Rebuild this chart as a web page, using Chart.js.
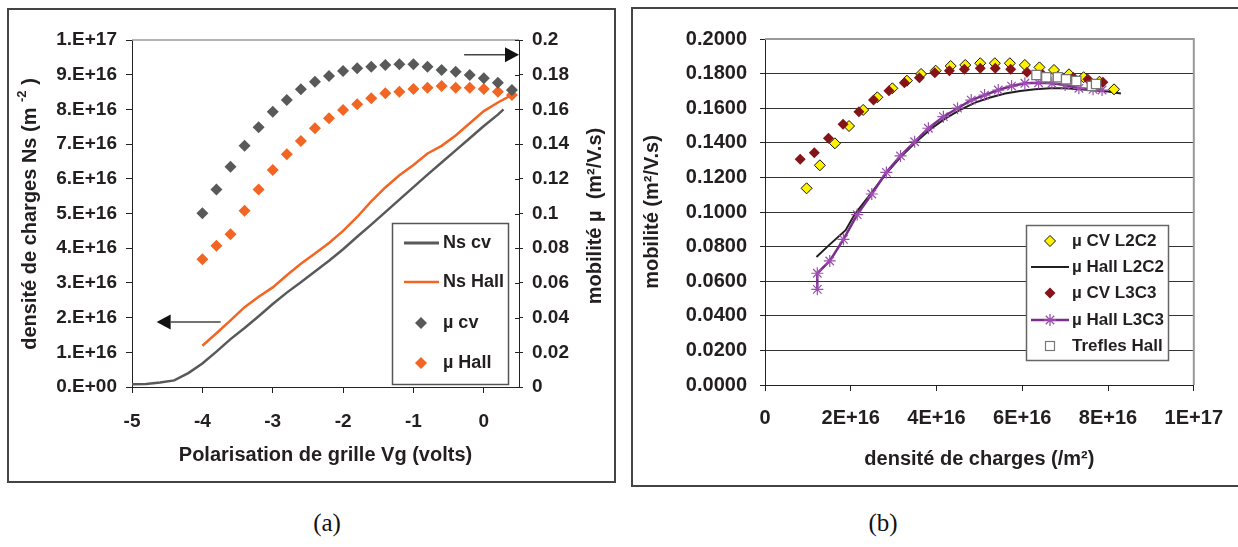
<!DOCTYPE html>
<html><head><meta charset="utf-8">
<script src="https://cdn.jsdelivr.net/npm/chart.js@4.4.0/dist/chart.umd.min.js"></script>
<style>
html,body{margin:0;padding:0;background:#fff;width:1238px;height:547px;overflow:hidden;position:relative;}
.frame{position:absolute;border:2px solid #444;box-sizing:border-box;}
.wrap{position:absolute;}
.cap{position:absolute;font-family:"Liberation Serif","Times New Roman",serif;font-size:25px;color:#111;transform:translate(-50%,-50%);}
</style></head><body>
<div class="frame" style="left:7px;top:8px;width:609px;height:475px"></div>
<div class="frame" style="left:631px;top:7px;width:620px;height:480px"></div>
<div class="wrap" style="left:0;top:0;"><canvas id="ca" width="620" height="490"></canvas></div>
<div class="wrap" style="left:620px;top:0;"><canvas id="cb" width="618" height="490"></canvas></div>
<div class="cap" style="left:327px;top:523px">(a)</div>
<div class="cap" style="left:883px;top:523px">(b)</div>
<script>
// ---------- Chart (a) data ----------
const vgMu = [-4.0,-3.8,-3.6,-3.4,-3.2,-3.0,-2.8,-2.6,-2.4,-2.2,-2.0,-1.8,-1.6,-1.4,-1.2,-1.0,-0.8,-0.6,-0.4,-0.2,0.0,0.2,0.4];
const muCv = [0.1001,0.1139,0.1270,0.1390,0.1497,0.1587,0.1654,0.1716,0.1760,0.1793,0.1821,0.1837,0.1846,0.1856,0.1860,0.1860,0.1846,0.1827,0.1817,0.1798,0.1779,0.1754,0.1712];
const muHall = [0.0736,0.0814,0.0880,0.1016,0.1139,0.1251,0.1341,0.1418,0.1491,0.1549,0.1597,0.1629,0.1664,0.1693,0.1702,0.1718,0.1725,0.1735,0.1725,0.1725,0.1718,0.1702,0.1683];
const vgNsCv = [-5.0,-4.8,-4.6,-4.4,-4.2,-4.0,-3.8,-3.6,-3.4,-3.2,-3.0,-2.8,-2.6,-2.4,-2.2,-2.0,-1.8,-1.6,-1.4,-1.2,-1.0,-0.8,-0.6,-0.4,-0.2,0.0,0.2,0.28];
const nsCv = [0.08e16,0.09e16,0.13e16,0.19e16,0.40e16,0.68e16,1.02e16,1.38e16,1.70e16,2.04e16,2.39e16,2.72e16,3.02e16,3.33e16,3.64e16,3.97e16,4.33e16,4.68e16,5.04e16,5.40e16,5.76e16,6.12e16,6.47e16,6.82e16,7.17e16,7.52e16,7.85e16,8.00e16];
const vgNsHall = [-4.0,-3.8,-3.6,-3.4,-3.2,-3.0,-2.8,-2.6,-2.4,-2.2,-2.0,-1.8,-1.6,-1.4,-1.2,-1.0,-0.8,-0.6,-0.4,-0.2,0.0,0.2,0.4];
const nsHall = [1.19e16,1.55e16,1.92e16,2.30e16,2.60e16,2.87e16,3.22e16,3.55e16,3.85e16,4.15e16,4.50e16,4.90e16,5.35e16,5.75e16,6.10e16,6.40e16,6.73e16,6.95e16,7.25e16,7.60e16,7.95e16,8.20e16,8.42e16];
const nsTickLabels = ['0.E+00','1.E+16','2.E+16','3.E+16','4.E+16','5.E+16','6.E+16','7.E+16','8.E+16','9.E+16','1.E+17'];
const muTickLabelsA = ['0','0.02','0.04','0.06','0.08','0.1','0.12','0.14','0.16','0.18','0.2'];
const vgTickLabels = ['-5','-4','-3','-2','-1','0'];
// arrows (data coords): [xFrom, xTo, y]
const arrowLeft = [-3.74, -4.65, 1.87e16];
const arrowRight = [-0.28, 0.5, 0.1915];

// ---------- Chart (b) data ----------
const nCvL2C2 = [0.97e16,1.28e16,1.63e16,1.96e16,2.29e16,2.62e16,2.97e16,3.31e16,3.64e16,3.98e16,4.33e16,4.67e16,5.02e16,5.36e16,5.71e16,6.06e16,6.40e16,6.74e16,7.09e16,7.43e16,7.80e16,8.14e16];
const muCvL2C2 = [0.1137,0.1270,0.1397,0.1497,0.1590,0.1663,0.1715,0.1759,0.1798,0.1817,0.1844,0.1850,0.1860,0.1860,0.1860,0.1850,0.1836,0.1821,0.1796,0.1779,0.1753,0.1709];
const nHallL2C2 = [1.20e16,1.50e16,1.88e16,2.10e16,2.45e16,2.80e16,3.15e16,3.50e16,3.85e16,4.20e16,4.55e16,4.90e16,5.25e16,5.60e16,5.95e16,6.30e16,6.65e16,7.00e16,7.35e16,7.70e16,8.00e16,8.30e16];
const muHallL2C2 = [0.0740,0.0810,0.0895,0.0990,0.1100,0.1215,0.1315,0.1400,0.1477,0.1540,0.1590,0.1632,0.1662,0.1685,0.1700,0.1710,0.1715,0.1715,0.1710,0.1703,0.1697,0.1685];
const nCvL3C3 = [0.82e16,1.15e16,1.48e16,1.82e16,2.19e16,2.53e16,2.89e16,3.25e16,3.60e16,3.96e16,4.30e16,4.65e16,5.02e16,5.37e16,5.73e16,6.11e16,6.47e16,6.83e16,7.19e16,7.53e16,7.88e16];
const muCvL3C3 = [0.1305,0.1343,0.1426,0.1507,0.1580,0.1647,0.1701,0.1747,0.1776,0.1805,0.1817,0.1825,0.1831,0.1831,0.1825,0.1808,0.1795,0.1785,0.1778,0.1767,0.1750];
const nHallL3C3 = [1.22e16,1.22e16,1.51e16,1.83e16,2.15e16,2.49e16,2.83e16,3.16e16,3.49e16,3.81e16,4.16e16,4.49e16,4.81e16,5.12e16,5.44e16,5.75e16,6.06e16,6.38e16,6.69e16,7.00e16,7.32e16,7.65e16,7.86e16];
const muHallL3C3 = [0.0553,0.0646,0.0717,0.0842,0.0985,0.1104,0.1229,0.1324,0.1406,0.1484,0.1551,0.1600,0.1647,0.1676,0.1705,0.1728,0.1744,0.1747,0.1744,0.1734,0.1715,0.1709,0.1705];
const nTrefles = [6.33e16,6.56e16,6.83e16,7.02e16,7.26e16,7.62e16,7.72e16];
const muTrefles = [0.1792,0.1779,0.1779,0.1767,0.1757,0.1728,0.1740];
const nTickLabels = ['0','2E+16','4E+16','6E+16','8E+16','1E+17'];
const muTickLabelsB = ['0.0000','0.0200','0.0400','0.0600','0.0800','0.1000','0.1200','0.1400','0.1600','0.1800','0.2000'];

// ---------- helpers ----------
const FAM = "'Liberation Sans', Arial, Helvetica, sans-serif";
const TXT = '#231f20';
Chart.defaults.font.family = FAM;
Chart.defaults.color = TXT;
const pts = (xs, ys) => xs.map((x, i) => ({x, y: ys[i]}));
function diamond(ctx, x, y, r, fill, stroke, lw) {
  ctx.beginPath(); ctx.moveTo(x, y - r); ctx.lineTo(x + r, y); ctx.lineTo(x, y + r); ctx.lineTo(x - r, y); ctx.closePath();
  ctx.fillStyle = fill; ctx.fill();
  if (stroke) { ctx.lineWidth = lw; ctx.strokeStyle = stroke; ctx.stroke(); }
}
function vTitle(ctx, cx, cy, parts) {
  ctx.save(); ctx.translate(cx, cy); ctx.rotate(-Math.PI / 2);
  let total = 0;
  parts.forEach(p => { ctx.font = p.font; p.w = ctx.measureText(p.text).width; total += p.w; });
  let x = -total / 2; ctx.textBaseline = 'middle'; ctx.textAlign = 'left'; ctx.fillStyle = TXT;
  parts.forEach(p => { ctx.font = p.font; ctx.fillText(p.text, x, p.dy || 0); x += p.w; });
  ctx.restore();
}
function arrow(ctx, x1, x2, y) {
  const dir = Math.sign(x2 - x1), hl = 14, hw = 7.5;
  ctx.save(); ctx.strokeStyle = '#444'; ctx.lineWidth = 1.5;
  ctx.beginPath(); ctx.moveTo(x1, y); ctx.lineTo(x2 - dir * hl, y); ctx.stroke();
  ctx.fillStyle = '#111'; ctx.beginPath(); ctx.moveTo(x2, y); ctx.lineTo(x2 - dir * hl, y - hw); ctx.lineTo(x2 - dir * hl, y + hw); ctx.closePath(); ctx.fill();
  ctx.restore();
}
const tickFont = {size: 19, weight: 'bold', family: FAM};
const tickFontB = {size: 20, weight: 'bold', family: FAM};
const titleFont = {size: 20, weight: 'bold', family: FAM};
const GRAY = '#58595b', ORANGE = '#f26522';

// ---------- Chart (a) ----------
const pluginA = {
  id: 'decorA',
  beforeDatasetsDraw(chart) {
    const {ctx, chartArea: a} = chart;
    ctx.save(); ctx.strokeStyle = '#9a9a9a'; ctx.lineWidth = 1.5;
    ctx.beginPath(); ctx.moveTo(a.left, a.top); ctx.lineTo(a.right, a.top); ctx.stroke();
    const y1 = chart.scales.y1; ctx.strokeStyle = '#222'; ctx.lineWidth = 1;
    y1.ticks.forEach(t => { const py = Math.round(y1.getPixelForValue(t.value)) + 0.5; ctx.beginPath(); ctx.moveTo(a.right - 4, py); ctx.lineTo(a.right, py); ctx.stroke(); });
    ctx.restore();
  },
  afterDraw(chart) {
    const {ctx} = chart; const x = chart.scales.x, y = chart.scales.y, y1 = chart.scales.y1;
    arrow(ctx, x.getPixelForValue(arrowLeft[0]), x.getPixelForValue(arrowLeft[1]), y.getPixelForValue(arrowLeft[2]));
    arrow(ctx, x.getPixelForValue(arrowRight[0]), x.getPixelForValue(arrowRight[1]), y1.getPixelForValue(arrowRight[2]));
    vTitle(ctx, 30, 214, [
      {text: 'densité de charges Ns (m ', font: 'bold 20px ' + FAM},
      {text: '-2', font: 'bold 13px ' + FAM, dy: -8},
      {text: ' )', font: 'bold 20px ' + FAM}]);
    vTitle(ctx, 595, 216, [{text: 'mobilité µ  (m²/V.s)', font: 'bold 20px ' + FAM}]);
    ctx.save();
    ctx.fillStyle = '#fff'; ctx.fillRect(392, 223, 116, 161);
    ctx.strokeStyle = '#555'; ctx.lineWidth = 1.5; ctx.strokeRect(392.5, 223.5, 116, 161);
    const items = [
      {t: 'Ns cv', y: 243, kind: 'line', c: GRAY, w: 3},
      {t: 'Ns Hall', y: 282, kind: 'line', c: ORANGE, w: 2.5},
      {t: 'µ cv', y: 323, kind: 'dia', c: GRAY},
      {t: 'µ Hall', y: 363, kind: 'dia', c: ORANGE}];
    ctx.font = 'bold 18px ' + FAM; ctx.textBaseline = 'middle'; ctx.textAlign = 'left';
    items.forEach(it => {
      if (it.kind === 'line') { ctx.strokeStyle = it.c; ctx.lineWidth = it.w; ctx.beginPath(); ctx.moveTo(404, it.y); ctx.lineTo(439, it.y); ctx.stroke(); }
      else diamond(ctx, 421, it.y, 6, it.c);
      ctx.fillStyle = TXT; ctx.fillText(it.t, 443, it.y);
    });
    ctx.restore();
  }
};

new Chart(document.getElementById('ca'), {
  type: 'scatter',
  data: {datasets: [
    {label: 'µ cv', data: pts(vgMu, muCv), yAxisID: 'y1', pointStyle: 'rectRot', pointRadius: 6, backgroundColor: GRAY, borderColor: GRAY, borderWidth: 0, showLine: false},
    {label: 'µ Hall', data: pts(vgMu, muHall), yAxisID: 'y1', pointStyle: 'rectRot', pointRadius: 6, backgroundColor: ORANGE, borderColor: ORANGE, borderWidth: 0, showLine: false},
    {label: 'Ns Hall', data: pts(vgNsHall, nsHall), yAxisID: 'y', showLine: true, borderColor: ORANGE, borderWidth: 2.5, pointRadius: 0, tension: 0},
    {label: 'Ns cv', data: pts(vgNsCv, nsCv), yAxisID: 'y', showLine: true, borderColor: GRAY, borderWidth: 2.5, pointRadius: 0, tension: 0}
  ]},
  options: {
    responsive: false, animation: false, events: [],
    layout: {padding: {left: 0, right: 0, top: 40, bottom: 0}},
    plugins: {legend: {display: false}, tooltip: {enabled: false}},
    scales: {
      x: {type: 'linear', position: 'bottom', min: -5, max: 0.5,
        afterFit: s => { s.height = 103; },
        ticks: {stepSize: 1, includeBounds: false, font: tickFont, color: TXT, padding: 17, maxRotation: 0,
          callback: (v, i) => vgTickLabels[i]},
        grid: {drawOnChartArea: false, drawTicks: true, tickLength: 6, color: '#222', tickColor: '#222'},
        border: {display: true, color: '#222', width: 1},
        title: {display: true, text: 'Polarisation de grille Vg (volts)', font: titleFont, color: TXT, padding: {top: 0, bottom: 23}}},
      y: {type: 'linear', position: 'left', min: 0, max: 1e17,
        afterFit: s => { s.width = 132; },
        ticks: {stepSize: 1e16, font: tickFont, color: TXT, padding: 9, callback: (v, i) => nsTickLabels[i]},
        grid: {drawOnChartArea: false, drawTicks: true, tickLength: 6, color: '#222', tickColor: '#222'},
        border: {display: true, color: '#222', width: 1}},
      y1: {type: 'linear', position: 'right', min: 0, max: 0.2,
        afterFit: s => { s.width = 101; },
        ticks: {stepSize: 0.02, font: tickFont, color: TXT, padding: 9, callback: (v, i) => muTickLabelsA[i]},
        grid: {drawOnChartArea: false, drawTicks: true, tickLength: 4, color: '#222', tickColor: '#222'},
        border: {display: true, color: '#222', width: 1}}
    }
  },
  plugins: [pluginA]
});

// ---------- Chart (b) ----------
const YEL = '#fff200', DRED = '#841417', PURP = '#7b2d8e', PURP2 = '#9c4fb0', BLK = '#231f20';
const pluginB = {
  id: 'decorB',
  beforeDatasetsDraw(chart) {
    const {ctx, chartArea: a} = chart;
    ctx.save(); ctx.strokeStyle = '#9a9a9a'; ctx.lineWidth = 2;
    ctx.beginPath(); ctx.moveTo(a.left, a.top); ctx.lineTo(a.right, a.top); ctx.lineTo(a.right, a.bottom); ctx.stroke();
    ctx.restore();
  },
  afterDraw(chart) {
    const {ctx} = chart;
    ctx.save();
    const L = 406, T = 225, W = 142, H = 135;
    ctx.fillStyle = '#fff'; ctx.fillRect(L, T, W, H);
    ctx.strokeStyle = '#666'; ctx.lineWidth = 1.5; ctx.strokeRect(L + 0.5, T + 0.5, W, H);
    ctx.font = 'bold 17px ' + FAM; ctx.textBaseline = 'middle'; ctx.textAlign = 'left';
    const mx = 430, tx = 452;
    const rows = [241, 267, 293, 320, 346];
    diamond(ctx, mx, rows[0], 5.5, YEL, '#111', 1);
    ctx.strokeStyle = BLK; ctx.lineWidth = 2; ctx.beginPath(); ctx.moveTo(411, rows[1]); ctx.lineTo(449, rows[1]); ctx.stroke();
    diamond(ctx, mx, rows[2], 5.5, DRED);
    ctx.strokeStyle = PURP; ctx.lineWidth = 2.5; ctx.beginPath(); ctx.moveTo(411, rows[3]); ctx.lineTo(449, rows[3]); ctx.stroke();
    ctx.strokeStyle = PURP2; ctx.lineWidth = 1.3; ctx.beginPath();
    for (let k = 0; k < 4; k++) { const an = k * Math.PI / 4; ctx.moveTo(mx - 6 * Math.cos(an), rows[3] - 6 * Math.sin(an)); ctx.lineTo(mx + 6 * Math.cos(an), rows[3] + 6 * Math.sin(an)); }
    ctx.stroke();
    ctx.fillStyle = '#fff'; ctx.fillRect(mx - 4.5, rows[4] - 4.5, 9, 9); ctx.strokeStyle = '#777'; ctx.lineWidth = 1.2; ctx.strokeRect(mx - 4.5, rows[4] - 4.5, 9, 9);
    const labels = ['µ CV L2C2', 'µ Hall L2C2', 'µ CV L3C3', 'µ Hall L3C3', 'Trefles Hall'];
    ctx.fillStyle = TXT;
    labels.forEach((t, i) => ctx.fillText(t, tx, rows[i]));
    ctx.restore();
  }
};

new Chart(document.getElementById('cb'), {
  type: 'scatter',
  data: {datasets: [
    {label: 'Trefles Hall', data: pts(nTrefles, muTrefles), pointStyle: 'rect', pointRadius: 6.5, backgroundColor: '#fff', borderColor: '#777', borderWidth: 1.3, showLine: false},
    {label: 'µ CV L3C3', data: pts(nCvL3C3, muCvL3C3), pointStyle: 'rectRot', pointRadius: 5.5, backgroundColor: DRED, borderColor: DRED, borderWidth: 0, showLine: false},
    {label: 'µ CV L2C2', data: pts(nCvL2C2, muCvL2C2), pointStyle: 'rectRot', pointRadius: 5.5, backgroundColor: YEL, borderColor: '#111', borderWidth: 1, showLine: false},
    {label: 'µ Hall L3C3', data: pts(nHallL3C3, muHallL3C3), pointStyle: 'star', pointRadius: 6, backgroundColor: PURP2, pointBorderColor: PURP2, pointBorderWidth: 1.2, borderColor: PURP, borderWidth: 2.5, showLine: true, tension: 0},
    {label: 'µ Hall L2C2', data: pts(nHallL2C2, muHallL2C2), pointRadius: 0, borderColor: BLK, borderWidth: 2, showLine: true, tension: 0}
  ]},
  options: {
    responsive: false, animation: false, events: [],
    layout: {padding: {left: 0, right: 41, top: 39, bottom: 0}},
    plugins: {legend: {display: false}, tooltip: {enabled: false}},
    scales: {
      x: {type: 'linear', position: 'bottom', min: 0, max: 1e17,
        afterFit: s => { s.height = 105; },
        ticks: {stepSize: 2e16, font: tickFontB, color: TXT, padding: 15, maxRotation: 0, callback: (v, i) => nTickLabels[i]},
        grid: {drawOnChartArea: false, drawTicks: true, tickLength: 6, color: '#222', tickColor: '#222'},
        border: {display: true, color: '#222', width: 1},
        title: {display: true, text: 'densité de charges (/m²)', font: titleFont, color: TXT, padding: {top: 0, bottom: 19}}},
      y: {type: 'linear', position: 'left', min: 0, max: 0.2,
        afterFit: s => { s.width = 145; },
        ticks: {stepSize: 0.02, font: tickFontB, color: TXT, padding: 13, callback: (v, i) => muTickLabelsB[i]},
        grid: {drawOnChartArea: true, drawTicks: true, tickLength: 5, color: c => (c.index === 10 ? 'rgba(0,0,0,0)' : '#333'), tickColor: '#222', lineWidth: 1},
        border: {display: true, color: '#222', width: 1},
        title: {display: true, text: 'mobilité (m²/V.s)', font: titleFont, color: TXT, padding: {top: 20, bottom: 0}}}
    }
  },
  plugins: [pluginB]
});
</script>
</body></html>
